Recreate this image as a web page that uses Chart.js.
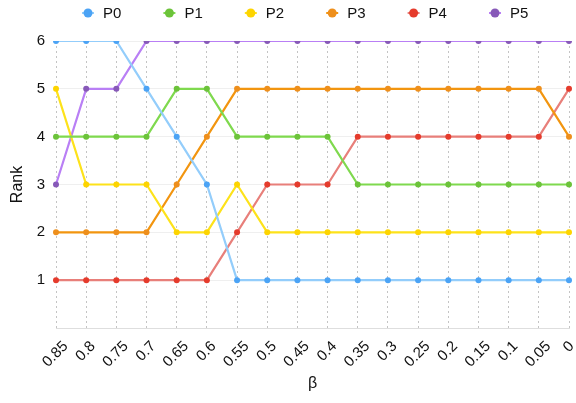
<!DOCTYPE html>
<html><head><meta charset="utf-8">
<script src="https://cdn.jsdelivr.net/npm/chart.js@4"></script>
<style>html,body{margin:0;padding:0;background:#fff}#w{width:576px;height:403px}</style>
</head><body><div id="w"><canvas id="c"></canvas></div>
<script>
const categories = ['0.85','0.8','0.75','0.7','0.65','0.6','0.55','0.5','0.45','0.4','0.35','0.3','0.25','0.2','0.15','0.1','0.05','0'];
const seriesNames = ['P0','P1','P2','P3','P4','P5'];
const P0 = [6,6,6,5,4,3,1,1,1,1,1,1,1,1,1,1,1,1];
const P1 = [4,4,4,4,5,5,4,4,4,4,3,3,3,3,3,3,3,3];
const P2 = [5,3,3,3,2,2,3,2,2,2,2,2,2,2,2,2,2,2];
const P3 = [2,2,2,2,3,4,5,5,5,5,5,5,5,5,5,5,5,4];
const P4 = [1,1,1,1,1,1,2,3,3,3,4,4,4,4,4,4,4,5];
const P5 = [3,5,5,6,6,6,6,6,6,6,6,6,6,6,6,6,6,6];
const yTicks = [1,2,3,4,5,6];
const values = [P0,P1,P2,P3,P4,P5];
const pointColors = ['#4ba3f5','#6cc33a','#fdd400','#ee8f1c','#e53b2c','#8759b8'];
const lineColors = ['#93cdfb','#7fd94e','#fde21a','#f2950f','#e87f7a','#b97ff5'];

const FONT = '"Liberation Sans", Arial, Helvetica, sans-serif';
Chart.defaults.font.family = FONT;
Chart.defaults.color = '#111';

const legendPlugin = {
  id: 'customLegend',
  afterDraw(chart){
    const ctx = chart.ctx;
    ctx.save();
    ctx.font = '15px ' + FONT;
    ctx.textBaseline = 'middle';
    const y = 13, x0 = 88, step = 81.4;
    chart.data.datasets.forEach((d,i)=>{
      const cx = x0 + i*step;
      ctx.strokeStyle = lineColors[i]; ctx.lineWidth = 2;
      ctx.beginPath(); ctx.moveTo(cx-6,y); ctx.lineTo(cx+6,y); ctx.stroke();
      ctx.fillStyle = pointColors[i];
      ctx.beginPath(); ctx.arc(cx,y,4.5,0,Math.PI*2); ctx.fill();
      ctx.fillStyle = '#111';
      ctx.fillText(d.label, cx+15, y+1);
    });
    ctx.restore();
  }
};

const xLabelPlugin = {
  id: 'xLabels',
  afterDraw(chart){
    const ctx = chart.ctx, sx = chart.scales.x;
    ctx.save();
    ctx.font = '15px ' + FONT;
    ctx.fillStyle = '#111';
    ctx.textAlign = 'right';
    ctx.textBaseline = 'middle';
    const y0 = sx.top + 16;
    chart.data.labels.forEach((lab,i)=>{
      const w = ctx.measureText(lab).width;
      const x = sx.getPixelForTick(i) + 0.33*w;
      ctx.save();
      ctx.translate(x, y0);
      ctx.rotate(-Math.PI/4);
      ctx.fillText(lab, 0, 0);
      ctx.restore();
    });
    ctx.restore();
  }
};

new Chart(document.getElementById('c'), {
  type: 'line',
  data: {
    labels: categories,
    datasets: seriesNames.map((n,i)=>({
      label: n,
      data: values[i],
      borderColor: lineColors[i],
      backgroundColor: pointColors[i],
      pointBackgroundColor: pointColors[i],
      pointBorderColor: pointColors[i],
      pointRadius: 3,
      pointBorderWidth: 0,
      borderWidth: 2.2,
      tension: 0,
      fill: false
    }))
  },
  options: {
    responsive: true,
    maintainAspectRatio: false,
    animation: false,
    layout: { padding: { left: 0, right: 7, top: 41, bottom: 0 } },
    plugins: {
      legend: { display: false },
      tooltip: { enabled: false }
    },
    scales: {
      x: {
        offset: false,
        afterFit: (s) => { s.height = 75; s.paddingLeft = 0; s.paddingRight = 0; },
        grid: { display: true, color: '#c4c4c4', drawTicks: false },
        border: { display: true, color: '#dedede', dash: [2,3] },
        ticks: { display: false, autoSkip: false },
        title: { display: true, text: 'β', font: { size: 16 }, color: '#111', padding: { top: 4, bottom: 10 } }
      },
      y: {
        min: 0, max: 6,
        afterFit: (s) => { s.width = 56; },
        afterBuildTicks: (ax) => { ax.ticks = [0].concat(yTicks).map(v=>({value:v})); },
        grid: { color: '#efefef', drawTicks: false },
        border: { display: false },
        ticks: { font: { size: 15 }, color: '#111', padding: 11, callback: (v)=> v===0 ? '' : v },
        title: { display: true, text: 'Rank', font: { size: 16 }, color: '#111', padding: { top: 8, bottom: 0 } }
      }
    }
  },
  plugins: [legendPlugin, xLabelPlugin]
});
</script>
</body></html>
